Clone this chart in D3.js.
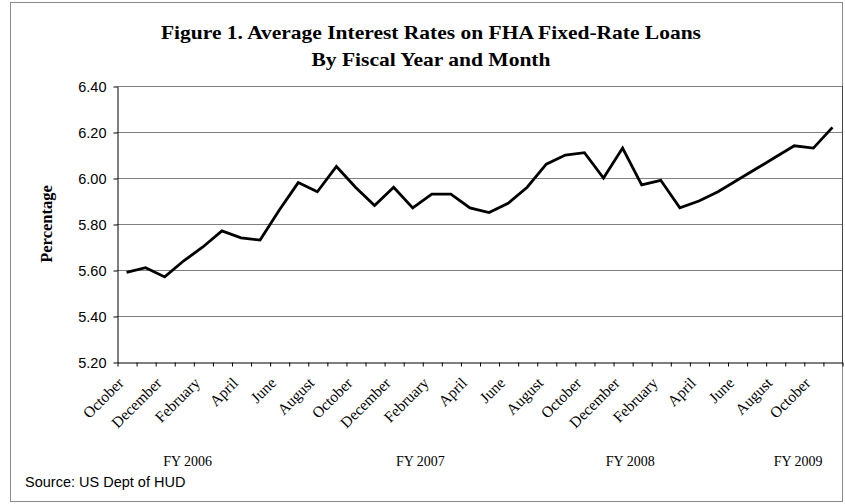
<!DOCTYPE html>
<html>
<head>
<meta charset="utf-8">
<script src="https://cdn.jsdelivr.net/npm/d3@7"></script>
<style>
  body { margin: 0; background: #fff; }
  svg { display: block; }
</style>
</head>
<body>
<div id="chart"></div>
<script>
// month categories (Oct 2005 .. Nov 2008), fiscal years start in October
var months = ["October", "November", "December", "January", "February", "March",
  "April", "May", "June", "July", "August", "September",
  "October", "November", "December", "January", "February", "March",
  "April", "May", "June", "July", "August", "September",
  "October", "November", "December", "January", "February", "March",
  "April", "May", "June", "July", "August", "September",
  "October", "November"];

// average interest rate (%) per month
var rates = [5.59, 5.61, 5.57, 5.64, 5.70, 5.77, 5.74, 5.73, 5.86, 5.98, 5.94, 6.05,
  5.96, 5.88, 5.96, 5.87, 5.93, 5.93, 5.87, 5.85, 5.89, 5.96, 6.06, 6.10,
  6.11, 6.00, 6.13, 5.97, 5.99, 5.87, 5.90, 5.94, 5.99, 6.04, 6.09, 6.14,
  6.13, 6.22];

var yTicks = [5.20, 5.40, 5.60, 5.80, 6.00, 6.20, 6.40];
var fyLabels = ["FY 2006", "FY 2007", "FY 2008", "FY 2009"];

// SVG size and plot box
var svgWidth = 845;
var svgHeight = 504;
var plot = { left: 117, right: 842, top: 86, bottom: 362 };

// where the fiscal year labels sit, in category units
var fyLabelPos = [3.7, 15.9, 26.9, 35.7];

var svg = d3.select("#chart")
  .append("svg")
  .attr("width", svgWidth)
  .attr("height", svgHeight);

// outer frame
svg.append("rect")
  .attr("x", 10.5)
  .attr("y", 2.5)
  .attr("width", 832)
  .attr("height", 499)
  .attr("fill", "none")
  .attr("stroke", "#8a8a8a")
  .attr("stroke-width", 1);

// scales
var xscale = d3.scaleLinear()
  .domain([0, months.length])
  .range([plot.left, plot.right]);

var yscale = d3.scaleLinear()
  .domain([5.2, 6.4])
  .range([plot.bottom, plot.top]);

// gridlines
svg.append("g")
  .selectAll("line")
  .data(yTicks.slice(1))
  .enter()
  .append("line")
  .attr("x1", plot.left)
  .attr("x2", plot.right)
  .attr("y1", d => Math.round(yscale(d)) + 0.5)
  .attr("y2", d => Math.round(yscale(d)) + 0.5)
  .attr("stroke", "#808080")
  .attr("stroke-width", 1);

// right border of the plot
svg.append("line")
  .attr("x1", plot.right + 0.5)
  .attr("x2", plot.right + 0.5)
  .attr("y1", plot.top)
  .attr("y2", plot.bottom)
  .attr("stroke", "#444")
  .attr("stroke-width", 1);

// y axis
var leftAxis = d3.axisLeft(yscale)
  .tickValues(yTicks)
  .tickFormat(d3.format(".2f"))
  .tickSizeInner(4)
  .tickSizeOuter(0)
  .tickPadding(7);

var yAxis = svg.append("g")
  .attr("transform", `translate(${plot.left + 0.5}, 0.5)`)
  .call(leftAxis);

yAxis.selectAll("text")
  .attr("font-family", "'Liberation Sans', Arial, sans-serif")
  .attr("font-size", "14.5px")
  .attr("fill", "#000");
yAxis.selectAll("line, path").attr("stroke", "#000");

// x axis, ticks on the category boundaries
var bottomAxis = d3.axisBottom(xscale)
  .tickValues(d3.range(months.length + 1))
  .tickFormat("")
  .tickSizeInner(4)
  .tickSizeOuter(0);

var xAxis = svg.append("g")
  .attr("transform", `translate(0.5, ${plot.bottom + 0.5})`)
  .call(bottomAxis);
xAxis.selectAll("line, path").attr("stroke", "#000");

// month labels, every other month, rotated
svg.append("g")
  .selectAll("text")
  .data(months.map((m, i) => ({ m: m, i: i })).filter(d => d.i % 2 === 0))
  .enter()
  .append("text")
  .attr("transform", d => `translate(${xscale(d.i + 0.5) - 2}, ${plot.bottom + 22}) rotate(-45)`)
  .attr("text-anchor", "end")
  .attr("font-family", "'Liberation Serif', 'Times New Roman', serif")
  .attr("font-size", "15.5px")
  .text(d => d.m);

// fiscal year labels
svg.append("g")
  .selectAll("text")
  .data(fyLabels)
  .enter()
  .append("text")
  .attr("x", (d, i) => xscale(fyLabelPos[i]))
  .attr("y", 466)
  .attr("text-anchor", "middle")
  .attr("font-family", "'Liberation Serif', 'Times New Roman', serif")
  .attr("font-size", "14px")
  .text(d => d);

// the rate line
var line = d3.line()
  .x((d, i) => xscale(i + 0.5))
  .y(d => yscale(d));

svg.append("path")
  .datum(rates)
  .attr("d", line)
  .attr("fill", "none")
  .attr("stroke", "#000")
  .attr("stroke-width", 2.8)
  .attr("stroke-linejoin", "miter");

// title
var title = svg.append("g")
  .attr("font-family", "'Liberation Serif', 'Times New Roman', serif")
  .attr("font-weight", "bold")
  .attr("text-anchor", "middle");

title.append("text")
  .attr("x", 431)
  .attr("y", 39)
  .attr("font-size", "19px")
  .attr("textLength", 540)
  .attr("lengthAdjust", "spacingAndGlyphs")
  .text("Figure 1. Average Interest Rates on FHA Fixed-Rate Loans");

title.append("text")
  .attr("x", 431)
  .attr("y", 66)
  .attr("font-size", "19px")
  .attr("textLength", 239)
  .attr("lengthAdjust", "spacingAndGlyphs")
  .text("By Fiscal Year and Month");

// y axis label
svg.append("text")
  .attr("transform", "translate(52, 224) rotate(-90)")
  .attr("text-anchor", "middle")
  .attr("font-family", "'Liberation Serif', 'Times New Roman', serif")
  .attr("font-weight", "bold")
  .attr("font-size", "16.5px")
  .text("Percentage");

// source note
svg.append("text")
  .attr("x", 25)
  .attr("y", 487)
  .attr("font-family", "'Liberation Sans', Arial, sans-serif")
  .attr("font-size", "14.5px")
  .text("Source: US Dept of HUD");
</script>
</body>
</html>
